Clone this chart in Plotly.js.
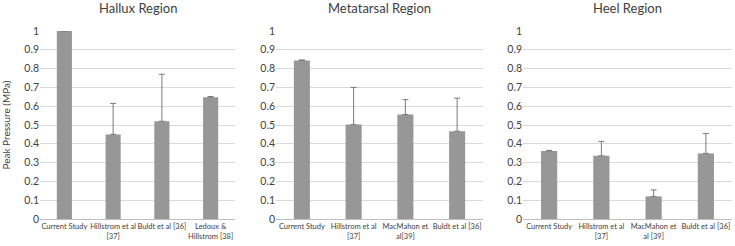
<!DOCTYPE html>
<html><head><meta charset="utf-8">
<script src="https://cdn.plot.ly/plotly-3.0.1.min.js"></script>
<style>html,body{margin:0;padding:0;background:#fff}#c{width:735px;height:246px}</style>
</head><body><div id="c"></div>
<script>
const halluxCats = ["Current Study", "Hillstrom et al<br>[37]", "Buldt et al [36]", "Ledoux &<br>Hillstrom [38]"];
const halluxVals = [1.0, 0.45, 0.52, 0.648];
const halluxErr  = [0.0, 0.165, 0.25, 0.003];

const metaCats = ["Current Study", "Hillstrom et al<br>[37]", "MacMahon et<br>al[39]", "Buldt et al [36]"];
const metaVals = [0.843, 0.502, 0.556, 0.467];
const metaErr  = [0.003, 0.198, 0.079, 0.176];

const heelCats = ["Current Study", "Hillstrom et al<br>[37]", "MacMahon et<br>al [39]", "Buldt et al [36]"];
const heelVals = [0.362, 0.336, 0.12, 0.349];
const heelErr  = [0.003, 0.077, 0.035, 0.106];

const titles = ["Hallux Region", "Metatarsal Region", "Heel Region"];
const yTicks = [0, 0.1, 0.2, 0.3, 0.4, 0.5, 0.6, 0.7, 0.8, 0.9, 1];
const yTickText = ["0", "0.1", "0.2", "0.3", "0.4", "0.5", "0.6", "0.7", "0.8", "0.9", "1"];

const FONT = "Lato, 'Open Sans', sans-serif";
const barColor = "#979797";
const errColor = "#7a7a7a";

function mk(cats, vals, err, ax) {
  return {
    type: "bar", x: cats, y: vals,
    xaxis: "x" + ax, yaxis: "y" + ax,
    marker: {color: barColor},
    width: 0.31,
    error_y: {type: "data", symmetric: false, array: err, arrayminus: err.map(() => 0),
              color: errColor, thickness: 1, width: 3},
    hoverinfo: "none", showlegend: false
  };
}

const data = [
  mk(halluxCats, halluxVals, halluxErr, ""),
  mk(metaCats, metaVals, metaErr, "2"),
  mk(heelCats, heelVals, heelErr, "3")
];

const W = 735, H = 246;
const doms = [[40, 235], [276, 483], [523, 732]];
const yDom = [(H - 219) / H, (H - 31) / H];

function xa(d) {
  return {domain: [d[0] / W, d[1] / W], showline: true, linecolor: "#bfbfbf", linewidth: 1,
          ticks: "", showgrid: false, zeroline: false, tickangle: 0,
          tickfont: {family: FONT, size: 7.5, color: "#404040"}, fixedrange: true};
}
function ya(anchor) {
  return {domain: yDom, range: [0, 1], anchor: anchor, tickvals: yTicks, ticktext: yTickText,
          showgrid: true, gridcolor: "#d9d9d9", gridwidth: 1, zeroline: false, showline: false,
          ticks: "", tickfont: {family: FONT, size: 10.5, color: "#404040"}, fixedrange: true};
}

const layout = {
  width: W, height: H,
  margin: {l: 0, r: 0, t: 0, b: 0},
  paper_bgcolor: "#fff", plot_bgcolor: "#fff",
  font: {family: FONT, color: "#404040"},
  bargap: 0.69,
  xaxis: Object.assign(xa(doms[0]), {anchor: "y"}),
  xaxis2: Object.assign(xa(doms[1]), {anchor: "y2"}),
  xaxis3: Object.assign(xa(doms[2]), {anchor: "y3"}),
  yaxis: Object.assign(ya("x"), {title: {text: "Peak Pressure (MPa)", font: {family: FONT, size: 10, color: "#404040"}, standoff: 11}}),
  yaxis2: ya("x2"),
  yaxis3: ya("x3"),
  annotations: titles.map((t, i) => ({
    text: t, xref: "paper", yref: "paper",
    x: (doms[i][0] + doms[i][1]) / 2 / W, y: 1 - 8 / H,
    xanchor: "center", yanchor: "middle", showarrow: false,
    font: {family: FONT, size: 13, color: "#404040"}
  }))
};

Plotly.newPlot("c", data, layout, {staticPlot: true, displayModeBar: false});
</script>
</body></html>
